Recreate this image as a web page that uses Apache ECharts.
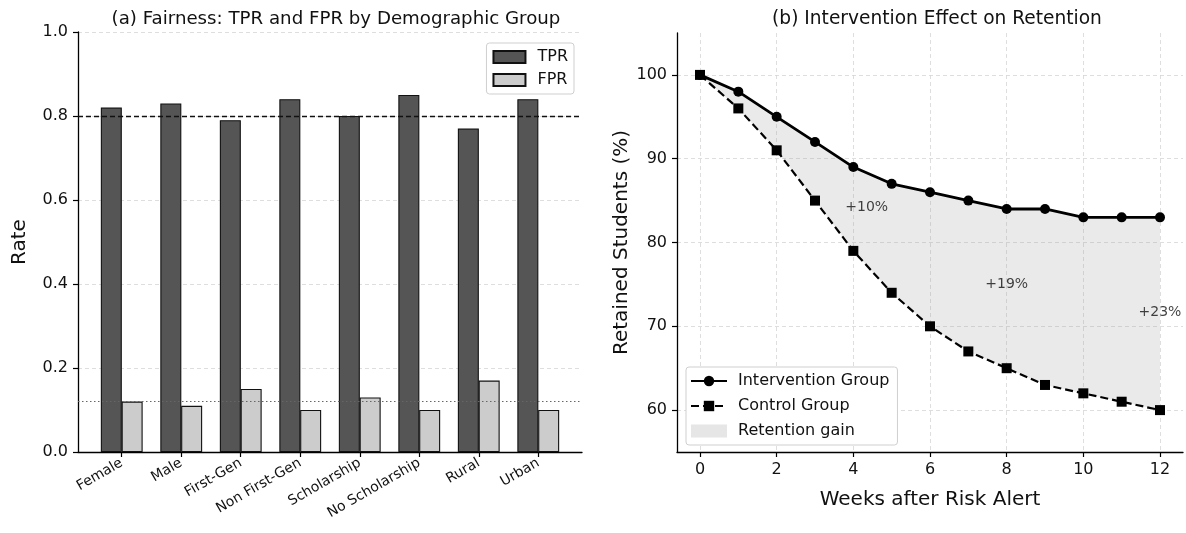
<!DOCTYPE html>
<html>
<head>
<meta charset="utf-8">
<script src="https://cdn.jsdelivr.net/npm/echarts@6/dist/echarts.min.js"></script>
<style>
html,body{margin:0;padding:0;background:#fff;}
#c{width:1186px;height:533px;}
</style>
</head>
<body>
<div id="c"></div>
<script>
// ---- Data ----
const groups = ['Female', 'Male', 'First-Gen', 'Non First-Gen', 'Scholarship', 'No Scholarship', 'Rural', 'Urban'];
const tpr = [0.82, 0.83, 0.79, 0.84, 0.80, 0.85, 0.77, 0.84];
const fpr = [0.12, 0.11, 0.15, 0.10, 0.13, 0.10, 0.17, 0.10];
const tprTarget = 0.8;
const fprMean = 0.1225;
const weeks = [0, 1, 2, 3, 4, 5, 6, 7, 8, 9, 10, 11, 12];
const intervention = [100, 98, 95, 92, 89, 87, 86, 85, 84, 84, 83, 83, 83];
const control = [100, 96, 91, 85, 79, 74, 70, 67, 65, 63, 62, 61, 60];
const annotations = [
  {week: 4.35, value: 84.2, text: '+10%'},
  {week: 8, value: 75, text: '+19%'},
  {week: 12, value: 71.7, text: '+23%'}
];
const weekTicks = [0, 2, 4, 6, 8, 10, 12];
const retTicks = [60, 70, 80, 90, 100];

// ---- Build ----
const FONT = 'DejaVu Sans';
const barHalf = 0.175;
const idx = groups.map((g, i) => i);
const tprData = tpr.map((v, i) => [i - barHalf, v]);
const fprData = fpr.map((v, i) => [i + barHalf, v]);
const ctrlPts = weeks.map((w, i) => [w, control[i]]);
const intPts = weeks.map((w, i) => [w, intervention[i]]);

const chart = echarts.init(document.getElementById('c'), null, {renderer: 'canvas'});
const gridLine = {show: true, lineStyle: {color: '#d6d6d6', type: [4, 3], width: 0.8}};
const axisLineBlack = {show: true, onZero: false, lineStyle: {color: '#000', width: 1.3}};
const tickStyle = {show: true, length: 5, lineStyle: {color: '#000', width: 1.2}};

chart.setOption({
  animation: false,
  textStyle: {fontFamily: FONT},
  title: [
    {text: '(a) Fairness: TPR and FPR by Demographic Group', left: 331, top: 5, textAlign: 'center',
     textStyle: {fontFamily: FONT, fontSize: 18.2, fontWeight: 'normal', color: '#111'}},
    {text: '(b) Intervention Effect on Retention', left: 932, top: 5, textAlign: 'center',
     textStyle: {fontFamily: FONT, fontSize: 18.6, fontWeight: 'normal', color: '#111'}}
  ],
  legend: [
    {
      data: ['TPR', 'FPR'], right: 612, top: 43, orient: 'vertical',
      icon: 'rect', itemWidth: 32, itemHeight: 12, itemGap: 7,
      backgroundColor: '#fff', borderColor: '#cfcfcf', borderWidth: 1, borderRadius: 3,
      padding: [6, 6, 6, 6],
      textStyle: {fontFamily: FONT, fontSize: 16, color: '#111', padding: [0, 0, 0, 7]}
    },
    {
      data: [{name: 'Intervention Group'}, {name: 'Control Group'}, {name: 'Retention gain', icon: 'rect'}],
      left: 686, top: 367, orient: 'vertical',
      itemWidth: 36, itemHeight: 13, itemGap: 9,
      backgroundColor: '#fff', borderColor: '#cfcfcf', borderWidth: 1, borderRadius: 3,
      padding: [6, 8, 6, 4],
      textStyle: {fontFamily: FONT, fontSize: 16, color: '#111', padding: [0, 0, 0, 6]}
    }
  ],
  grid: [
    {left: 78, right: 604, top: 32, bottom: 81},
    {left: 677, right: 3, top: 33, bottom: 81}
  ],
  xAxis: [
    {
      type: 'value', gridIndex: 0, min: -0.735, max: 7.735,
      axisLine: axisLineBlack,
      axisTick: Object.assign({customValues: idx}, tickStyle),
      axisLabel: {customValues: idx, rotate: 30, fontSize: 14, color: '#111', fontFamily: FONT, margin: 10,
        formatter: v => groups[Math.round(v)]},
      splitLine: {show: false}
    },
    {
      type: 'value', gridIndex: 1, min: -0.6, max: 12.6,
      name: 'Weeks after Risk Alert', nameLocation: 'middle', nameGap: 38,
      nameTextStyle: {fontFamily: FONT, fontSize: 20, color: '#111'},
      axisLine: axisLineBlack,
      axisTick: Object.assign({customValues: weekTicks}, tickStyle),
      axisLabel: {customValues: weekTicks, fontSize: 16, color: '#111', fontFamily: FONT, margin: 10},
      splitLine: gridLine
    }
  ],
  yAxis: [
    {
      type: 'value', gridIndex: 0, min: 0, max: 1, interval: 0.2,
      name: 'Rate', nameLocation: 'middle', nameGap: 48,
      nameTextStyle: {fontFamily: FONT, fontSize: 20, color: '#111'},
      axisLine: axisLineBlack,
      axisTick: tickStyle,
      axisLabel: {fontSize: 16, color: '#111', fontFamily: FONT, margin: 10, formatter: v => v.toFixed(1)},
      splitLine: gridLine
    },
    {
      type: 'value', gridIndex: 1, min: 55, max: 105,
      name: 'Retained Students (%)', nameLocation: 'middle', nameGap: 45,
      nameTextStyle: {fontFamily: FONT, fontSize: 20, color: '#111'},
      axisLine: axisLineBlack,
      axisTick: Object.assign({customValues: retTicks}, tickStyle),
      axisLabel: {customValues: retTicks, fontSize: 16, color: '#111', fontFamily: FONT, margin: 10},
      splitLine: gridLine
    }
  ],
  series: [
    {
      name: 'TPR', type: 'bar', xAxisIndex: 0, yAxisIndex: 0, data: tprData,
      barWidth: 21, barGap: '-100%',
      itemStyle: {color: '#555555', borderColor: '#111', borderWidth: 1.1},
      markLine: {
        silent: true, symbol: 'none', label: {show: false},
        data: [
          {yAxis: tprTarget, lineStyle: {color: '#111', type: [5, 3], width: 1.3}},
          {yAxis: fprMean, lineStyle: {color: '#666', type: [1.5, 2.5], width: 1}}
        ]
      }
    },
    {
      name: 'FPR', type: 'bar', xAxisIndex: 0, yAxisIndex: 0, data: fprData,
      barWidth: 21, barGap: '-100%',
      itemStyle: {color: '#cccccc', borderColor: '#111', borderWidth: 1.1}
    },
    {
      name: 'Retention gain', type: 'custom', xAxisIndex: 1, yAxisIndex: 1,
      data: weeks.map((w, i) => [w, control[i]]),
      silent: true, z: 1,
      itemStyle: {color: '#e6e6e6'},
      renderItem: function (params, api) {
        if (params.dataIndex !== 0) return null;
        const top = intPts.map(p => api.coord(p));
        const bottom = ctrlPts.slice().reverse().map(p => api.coord(p));
        return {
          type: 'polygon',
          shape: {points: top.concat(bottom)},
          style: {fill: 'rgba(150,150,150,0.2)', stroke: null}
        };
      }
    },
    {
      name: 'Control Group', type: 'line', xAxisIndex: 1, yAxisIndex: 1, data: ctrlPts,
      symbol: 'rect', symbolSize: 10, z: 3,
      lineStyle: {color: '#000', width: 2.2, type: [8, 4]},
      itemStyle: {color: '#000'}
    },
    {
      name: 'Intervention Group', type: 'line', xAxisIndex: 1, yAxisIndex: 1, data: intPts,
      symbol: 'circle', symbolSize: 10, z: 4,
      lineStyle: {color: '#000', width: 2.8},
      itemStyle: {color: '#000'}
    },
    {
      name: 'ann', type: 'scatter', xAxisIndex: 1, yAxisIndex: 1, symbolSize: 0, silent: true, z: 5,
      data: annotations.map(a => ({value: [a.week, a.value], label: {formatter: a.text}})),
      label: {show: true, position: 'inside', fontFamily: FONT, fontSize: 14, color: '#111'}
    }
  ]
});
</script>
</body>
</html>
